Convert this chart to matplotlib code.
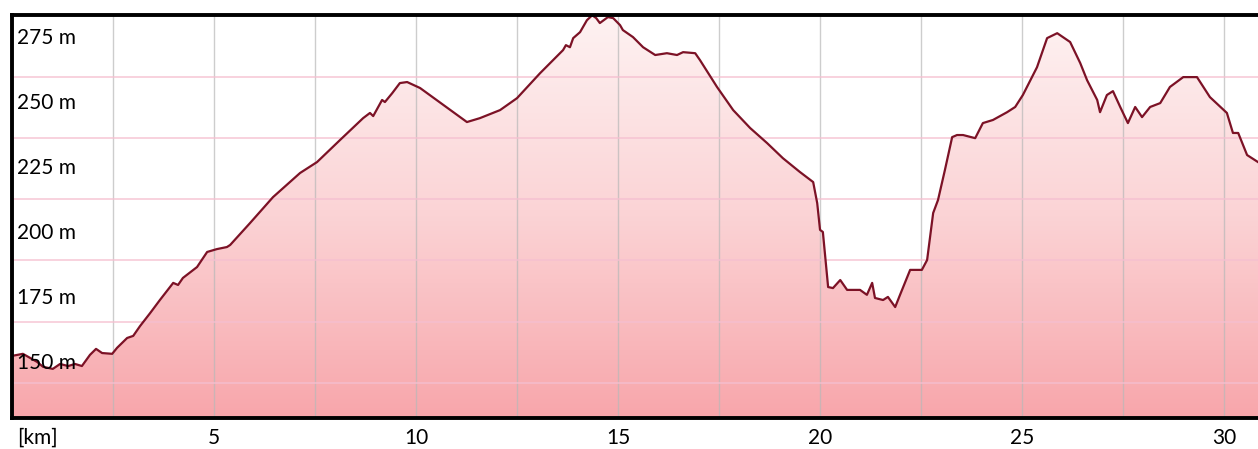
import numpy as np
import matplotlib
matplotlib.use("Agg")
import matplotlib.pyplot as plt
from matplotlib.colors import LinearSegmentedColormap

plt.rcParams['font.family'] = ['Lato', 'DejaVu Sans']

# distance [km] and elevation [m]
dist_km = [0.00, 0.27, 0.45, 0.62, 0.77, 1.01, 1.19, 1.39, 1.56, 1.73,
           1.93, 2.08, 2.23, 2.48, 2.60, 2.85, 3.00, 3.17, 3.42, 3.66,
           3.99, 4.11, 4.23, 4.58, 4.83, 5.07, 5.32, 5.40, 5.89, 6.46,
           7.13, 7.55, 8.12, 8.69, 8.86, 8.94, 9.16, 9.23, 9.41, 9.60,
           9.78, 10.10, 11.26, 11.58, 12.08, 12.50, 13.07, 13.64, 13.71, 13.81,
           13.89, 14.06, 14.16, 14.23, 14.36, 14.46, 14.55, 14.75, 14.88, 15.05,
           15.12, 15.37, 15.62, 15.92, 16.21, 16.46, 16.61, 16.91, 17.03, 17.45,
           17.85, 18.27, 18.69, 19.08, 19.50, 19.83, 19.93, 20.00, 20.07, 20.20,
           20.32, 20.50, 20.67, 20.99, 21.16, 21.29, 21.36, 21.56, 21.68, 21.86,
           21.98, 22.23, 22.52, 22.65, 22.80, 22.92, 23.09, 23.27, 23.39, 23.54,
           23.84, 24.03, 24.28, 24.63, 24.83, 25.02, 25.37, 25.62, 25.87, 26.19,
           26.44, 26.61, 26.86, 26.93, 27.10, 27.25, 27.43, 27.62, 27.80, 27.97,
           28.17, 28.42, 28.66, 28.99, 29.33, 29.65, 30.07, 30.22, 30.35, 30.57,
           30.84]
elev_m = [152.7, 153.5, 151.9, 150.4, 148.5, 147.7, 149.6, 148.8, 149.6, 148.8,
          153.1, 155.4, 153.8, 153.5, 155.8, 159.6, 160.4, 164.2, 169.2, 174.2,
          180.8, 180.0, 182.7, 186.9, 192.7, 193.8, 194.6, 195.4, 203.8, 213.8,
          223.1, 227.3, 235.8, 244.2, 246.2, 245.0, 251.2, 250.4, 253.8, 257.7,
          258.1, 255.8, 242.7, 244.2, 247.3, 251.9, 261.5, 270.4, 272.3, 271.5,
          275.0, 277.3, 280.0, 281.9, 283.8, 282.7, 280.8, 283.1, 282.7, 280.0,
          278.1, 275.4, 271.5, 268.5, 269.2, 268.5, 269.6, 269.2, 266.5, 256.2,
          247.3, 240.4, 234.6, 228.8, 223.5, 219.6, 211.5, 201.2, 200.4, 179.2,
          178.8, 181.9, 178.1, 178.1, 176.2, 180.8, 175.0, 174.2, 175.4, 171.5,
          176.2, 185.8, 185.8, 189.6, 207.7, 212.7, 224.2, 236.9, 237.7, 237.7,
          236.5, 242.3, 243.5, 246.5, 248.5, 253.1, 263.8, 275.0, 276.9, 273.5,
          265.4, 258.8, 251.2, 246.5, 253.1, 254.6, 248.5, 242.3, 248.5, 244.6,
          248.5, 250.0, 256.2, 260.0, 260.0, 252.3, 246.2, 238.5, 238.5, 230.0,
          227.3]

elev_labels = [275, 250, 225, 200, 175, 150]
km_ticks = [5, 10, 15, 20, 25, 30]

x = np.array(dist_km)
y = np.array(elev_m)
ymin, ymax = 128.8, 283.9
xmin, xmax = 0.0, 30.84

fig = plt.figure(figsize=(12.58, 4.49), dpi=100)
ax = fig.add_axes([12 / 1258, 31 / 449, 1 - 12 / 1258, 403 / 449])
ax.set_xlim(xmin, xmax)
ax.set_ylim(ymin, ymax)

# gradient fill clipped to the area under the profile
cmap = LinearSegmentedColormap.from_list('pinkfade', ['#f8a6ab', '#fbd3d5', '#fef2f2'])
grad = np.linspace(0, 1, 256).reshape(-1, 1)
img = ax.imshow(grad, cmap=cmap, origin='lower', aspect='auto',
                extent=[xmin, xmax, ymin, ymax], zorder=1)
poly = ax.fill_between(x, y, ymin, color='none', lw=0)
img.set_clip_path(poly.get_paths()[0], transform=ax.transData)

# grid
for k in np.arange(2.5, 31, 2.5):
    ax.axvline(k, color='#b8b8b8', lw=1.0, alpha=0.7, zorder=2)
for f in [0.847, 0.695, 0.543, 0.391, 0.239, 0.087]:
    ax.axhline(ymin + f * (ymax - ymin), color='#f5bfd0', lw=1.4, alpha=0.7, zorder=2)

ax.plot(x, y, color='#7c1226', lw=1.6, zorder=3)

# elevation labels inside the plot
for v in elev_labels:
    ax.text(0.004, v, f'{v} m', transform=ax.get_yaxis_transform(),
            ha='left', va='center', fontsize=15, color='black', zorder=5)

ax.set_yticks([])
ax.set_xticks(km_ticks)
ax.set_xticklabels([str(t) for t in km_ticks], fontsize=15)
ax.tick_params(axis='x', length=0, pad=7)
ax.annotate('[km]', xy=(0.004, 0), xycoords='axes fraction', xytext=(0, -7),
            textcoords='offset points', ha='left', va='top', fontsize=15)

for s in ['left', 'top', 'bottom']:
    ax.spines[s].set_linewidth(2.8)
    ax.spines[s].set_color('black')
    ax.spines[s].set_zorder(6)
ax.spines['right'].set_visible(False)

fig.savefig('out.png', dpi=100)
